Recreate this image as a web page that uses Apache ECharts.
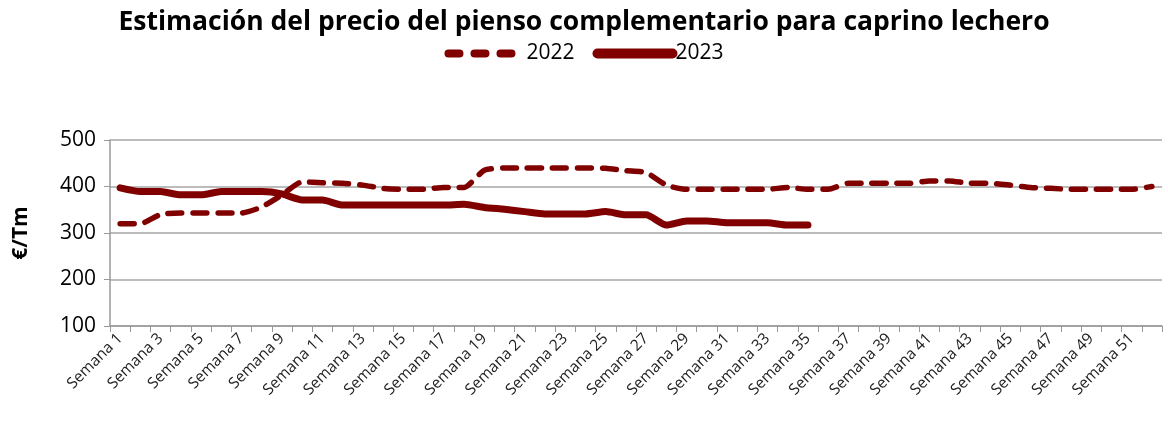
<!DOCTYPE html>
<html>
<head>
<meta charset="utf-8">
<script src="https://cdn.jsdelivr.net/npm/echarts@6/dist/echarts.min.js"></script>
<style>
  html, body { margin: 0; padding: 0; background: #fff; }
  #main { width: 1168px; height: 426px; }
</style>
</head>
<body>
<div id="main"></div>
<script>
// semanas 1..52
var weeks = [];
for (var i = 1; i <= 52; i++) weeks.push('Semana ' + i);

var price2022 = [320, 320, 340, 343, 343, 343, 343, 356, 382, 410,
                 408, 407, 403, 396, 394, 394, 398, 398, 435, 440,
                 440, 440, 440, 440, 439, 434, 430, 403, 394, 394,
                 394, 394, 394, 398, 394, 394, 407, 407, 407, 407,
                 412, 412, 407, 407, 403, 398, 396, 394, 394, 394,
                 394, 400];

var price2023 = [397, 389, 389, 382, 382, 389, 389, 389, 384, 371,
                 371, 360, 360, 360, 360, 360, 360, 362, 355, 351,
                 346, 341, 341, 341, 346, 339, 339, 317, 326, 326,
                 322, 322, 322, 317, 317];

var yTicks = [100, 200, 300, 400, 500];

var font = 'Open Sans';
var myChart = echarts.init(document.getElementById('main'));

var option = {
  animation: false,
  title: {
    text: 'Estimación del precio del pienso complementario para caprino lechero',
    left: 'center',
    top: 4,
    textStyle: { fontFamily: font, fontWeight: 'bold', fontSize: 26.5, color: '#000' }
  },
  legend: {
    top: 38,
    left: 'center',
    itemWidth: 75,
    itemHeight: 14,
    itemGap: 18,
    textStyle: { fontFamily: font, fontSize: 21, color: '#000', padding: [0, 0, 0, -2] },
    itemStyle: { opacity: 0 },
    data: [
      { name: '2022', lineStyle: { width: 8, type: [11, 15], cap: 'round' } },
      { name: '2023', lineStyle: { width: 10, cap: 'round' } }
    ]
  },
  grid: { left: 110, right: 6, top: 140, bottom: 100 },
  xAxis: {
    type: 'category',
    data: weeks,
    boundaryGap: true,
    axisLine: { lineStyle: { color: '#999', width: 1.5 } },
    axisTick: { show: true, interval: 0, length: 6, lineStyle: { color: '#999' } },
    axisLabel: {
      interval: 1,
      rotate: 45,
      fontFamily: font,
      fontSize: 15.5,
      color: '#222',
      margin: 10
    }
  },
  yAxis: {
    type: 'value',
    min: yTicks[0],
    max: yTicks[yTicks.length - 1],
    interval: 100,
    name: '€/Tm',
    nameLocation: 'middle',
    nameGap: 78,
    nameTextStyle: { fontFamily: font, fontWeight: 'bold', fontSize: 21, color: '#000' },
    axisLine: { show: true, lineStyle: { color: '#999', width: 1.5 } },
    axisTick: { show: true, length: 6, lineStyle: { color: '#999' } },
    splitLine: { lineStyle: { color: '#a6a6a6', width: 1.5 } },
    axisLabel: { fontFamily: font, fontSize: 21, color: '#000', margin: 14 }
  },
  series: [
    {
      name: '2022',
      type: 'line',
      data: price2022,
      showSymbol: false,
      symbol: 'none',
      smooth: 0.2,
      color: '#800000',
      lineStyle: { color: '#800000', width: 5.5, type: [14, 11], cap: 'round' }
    },
    {
      name: '2023',
      type: 'line',
      data: price2023,
      showSymbol: false,
      symbol: 'none',
      smooth: 0.2,
      color: '#800000',
      lineStyle: { color: '#800000', width: 7, cap: 'round', join: 'round' }
    }
  ]
};

myChart.setOption(option);
</script>
</body>
</html>
